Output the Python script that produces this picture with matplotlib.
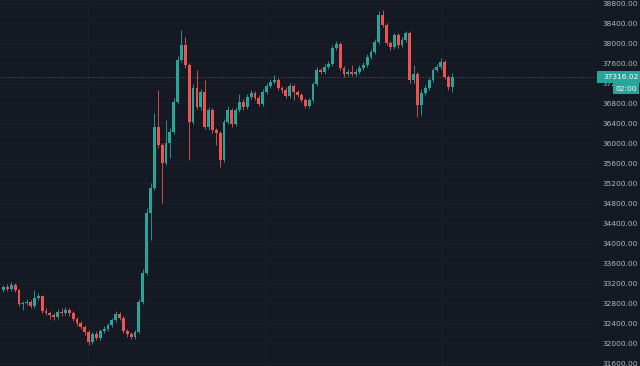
import numpy as np
import matplotlib
matplotlib.use("Agg")
import matplotlib.pyplot as plt
import matplotlib.transforms as mtransforms
from matplotlib.patches import Rectangle

# candle data (price), open of each candle = previous close
first_open = 33060
closes = [33120, 33080, 33160, 33060, 32780, 32800, 32820, 32740, 32900, 32940,
          32640, 32600, 32560, 32520, 32620, 32600, 32660, 32600, 32480, 32400,
          32320, 32220, 32020, 32180, 32100, 32240, 32280, 32360, 32460, 32580,
          32500, 32240, 32180, 32120, 32220, 32820, 33400, 34600, 35100, 36320,
          35960, 35600, 36000, 36220, 36820, 37660, 37960, 37560, 36420, 37100,
          36720, 37020, 36320, 36660, 36260, 36200, 35660, 36420, 36660, 36380,
          36660, 36820, 36720, 36920, 37000, 36900, 36780, 37020, 37140, 37220,
          37260, 37100, 37060, 36940, 37140, 37020, 36960, 36860, 36740, 36860,
          37180, 37460, 37420, 37520, 37580, 37900, 37980, 37500, 37380, 37420,
          37380, 37420, 37500, 37560, 37720, 37820, 38020, 38560, 38360, 38000,
          37920, 38160, 37960, 38060, 38200, 37260, 37380, 36760, 37000, 37100,
          37260, 37460, 37520, 37620, 37320, 37120, 37316.02]
highs = [33160, 33180, 33220, 33200, 33080, 32840, 32880, 32860, 33060, 33000,
         32960, 32700, 32640, 32600, 32680, 32700, 32720, 32700, 32640, 32520,
         32440, 32360, 32260, 32220, 32240, 32280, 32340, 32400, 32500, 32640,
         32620, 32540, 32280, 32220, 32260, 32880, 33480, 34700, 35200, 36600,
         37060, 36000, 36460, 36300, 36900, 37740, 38260, 38120, 37600, 37180,
         37460, 37080, 37260, 36720, 36700, 36300, 36240, 36480, 36740, 36700,
         36720, 36980, 36880, 36980, 37060, 37040, 36960, 37080, 37200, 37280,
         37360, 37300, 37140, 37120, 37200, 37180, 37060, 37000, 36900, 36900,
         37220, 37520, 37500, 37580, 37640, 37960, 38040, 38020, 37540, 37480,
         37560, 37480, 37560, 37620, 37780, 37880, 38080, 38640, 38660, 38400,
         38040, 38200, 38200, 38120, 38240, 38240, 37560, 37420, 37080, 37160,
         37300, 37500, 37580, 37700, 37660, 37360, 37400]
lows = [33020, 33040, 33040, 33020, 32740, 32660, 32760, 32700, 32700, 32860,
        32600, 32560, 32480, 32460, 32480, 32540, 32560, 32540, 32440, 32340,
        32280, 32160, 31960, 31980, 32060, 32060, 32200, 32240, 32320, 32420,
        32460, 32200, 32120, 32080, 32080, 32200, 32780, 33360, 34060, 35060,
        35900, 34800, 35560, 35700, 36180, 36780, 37620, 37500, 35660, 36380,
        36680, 36660, 36280, 36260, 36200, 35960, 35520, 35620, 36380, 36320,
        36340, 36620, 36660, 36680, 36880, 36860, 36740, 36740, 36980, 37100,
        37180, 37060, 37000, 36900, 36900, 36860, 36920, 36820, 36700, 36700,
        36820, 37140, 37380, 37380, 37480, 37540, 37860, 37460, 37320, 37340,
        37340, 37340, 37380, 37460, 37520, 37680, 37780, 37980, 38320, 37960,
        37860, 37880, 37900, 37920, 38020, 37200, 37200, 36520, 36560, 36960,
        37060, 37220, 37420, 37480, 37280, 37060, 37020]
price_ticks = list(range(31600, 39000, 400))
last_price = 37316.02
countdown = "02:00"

up_color = "#26a69a"
down_color = "#ef5350"
bg = "#151924"

opens = [first_open] + closes[:-1]
x = np.arange(len(closes))
o = np.array(opens)
c = np.array(closes)
colors = [up_color if cc >= oo else down_color for oo, cc in zip(o, c)]

fig = plt.figure(figsize=(6.4, 3.66), dpi=100, facecolor=bg)
ax = fig.add_axes([0, 0, 597 / 640, 1])
ax.set_facecolor(bg)
for s in ax.spines.values():
    s.set_visible(False)

ax.set_xlim(-0.9, 153.4)
ax.set_ylim(31540, 38860)

# grid, very faint like the original
ax.set_yticks(price_ticks)
ax.set_yticklabels([f"{t:.2f}" for t in price_ticks])
ax.yaxis.tick_right()
ax.tick_params(axis="y", length=0, pad=4.3, labelsize=5.4, labelcolor="#b2b5be")
ax.set_xticks([21.8, 67.5, 113.3])
ax.tick_params(axis="x", length=0, labelbottom=False)
ax.grid(True, color="#1b1f2a", lw=0.6)
ax.set_axisbelow(True)

# candles
ax.vlines(x, lows, highs, colors=colors, lw=0.6, zorder=2)
ax.bar(x, np.abs(c - o) + 8, bottom=np.minimum(o, c) - 4, width=0.74,
       color=colors, edgecolor="none", zorder=3)

# last price line + labels
ax.axhline(last_price, color="#5d8a8a", ls=(0, (1, 2)), lw=0.6, alpha=0.8, zorder=1)
trans = mtransforms.blended_transform_factory(fig.transFigure, ax.transData)
fig.add_artist(Rectangle((597 / 640, last_price - 120), 43 / 640, 240,
                         transform=trans, facecolor=up_color, edgecolor="none", zorder=5))
fig.text(603 / 640, last_price, f"{last_price:.2f}", transform=trans, color="white",
         fontsize=5.4, va="center", ha="left", zorder=6)
fig.add_artist(Rectangle((613 / 640, last_price - 340), 26 / 640, 220,
                         transform=trans, facecolor=up_color, edgecolor="none", zorder=5))
fig.text(626 / 640, last_price - 230, countdown, transform=trans, color="white",
         fontsize=5.4, va="center", ha="center", zorder=6)

fig.savefig("out.png", dpi=100, facecolor=bg)
